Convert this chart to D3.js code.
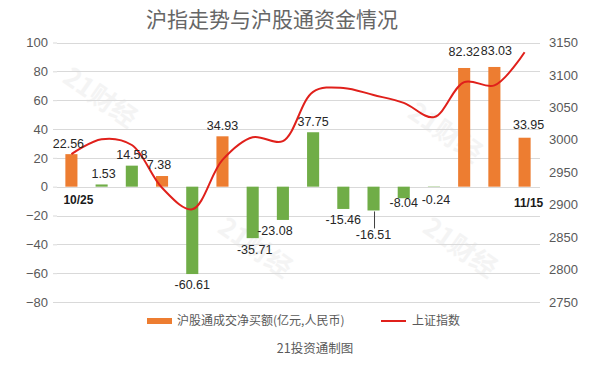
<!DOCTYPE html>
<html><head><meta charset="utf-8">
<script src="https://cdn.jsdelivr.net/npm/d3@7"></script>
<style>
html,body{margin:0;padding:0;background:#fff;}
svg text{font-family:"Liberation Sans",Arial,sans-serif;}
.cjk{font-family:"Noto Sans CJK SC","Liberation Sans",sans-serif;}
</style></head>
<body><svg id="c" width="591" height="379"></svg>
<script>
const dates = ["10/25","10/26","10/27","10/30","10/31","11/1","11/2","11/3","11/6","11/7","11/8","11/9","11/10","11/13","11/14","11/15"];
const netBuy = [22.56,1.53,14.58,7.38,-60.61,34.93,-35.71,-23.08,37.75,-15.46,-16.51,-8.04,-0.24,82.32,83.03,33.95];
const barColorKey = ["o","g","g","o","g","o","g","g","g","g","g","g","g","o","o","o"];
const shIndex = [2978,3001,2992,2926,2893,2969,3004,2998,3074,3080,3069,3057,3035,3089,3084,3135];
const leftTicks = [100,80,60,40,20,0,-20,-40,-60,-80];
const rightTicks = [3150,3100,3050,3000,2950,2900,2850,2800,2750];
const shownDates = ["10/25","11/15"];
const title = "沪指走势与沪股通资金情况";
const legendBar = "沪股通成交净买额(亿元,人民币)";
const legendLine = "上证指数";
const footer = "21投资通制图";

(function(){
const colors = {o:"#ED7D31", g:"#70AD47"};
// label nudges (px) for hand-placed labels
const labelNudge = {7:{dx:-8,dy:0},10:{dx:0,dy:13,leader:true},11:{dx:0,dy:-7},12:{dx:2,dy:2},13:{dx:0,dy:-5},14:{dx:2,dy:-5},15:{dx:4,dy:-2},0:{dx:-3,dy:0},1:{dx:2,dy:0},3:{dx:-3,dy:0},6:{dx:2,dy:0}};

const svg = d3.select("#c");
const pTop = 42.5, pBottom = 302, pLeft = 57, pRight = 540;

const x = d3.scaleBand().domain(dates).range([56,540]).paddingInner(0.6).paddingOuter(0.31);
const yL = d3.scaleLinear().domain([-80,100]).range([pBottom, pTop]);
const yR = d3.scaleLinear().domain([2750,3150]).range([pBottom, pTop]);

// watermark
const wm = [[95,105],[250,255],[455,255],[440,140]];
wm.forEach(p=>{
  svg.append("text").attr("class","cjk").attr("x",p[0]).attr("y",p[1])
    .attr("transform",`rotate(35 ${p[0]} ${p[1]})`).attr("text-anchor","middle")
    .attr("font-size",26).attr("font-weight","bold").attr("fill","#f4f4f4").text("21财经");
});

// gridlines
svg.append("g").selectAll("line").data(leftTicks).join("line")
  .attr("x1",pLeft).attr("x2",pRight).attr("y1",d=>Math.round(yL(d))+0.5).attr("y2",d=>Math.round(yL(d))+0.5)
  .attr("stroke","#d9d9d9").attr("stroke-width",1);

// left axis
const ax = d3.axisLeft(yL).tickValues(leftTicks).tickSize(4).tickPadding(5).tickFormat(d=>d<0?"\u2212"+Math.abs(d):d);
const gL = svg.append("g").attr("transform",`translate(${pLeft},0)`).call(ax);
gL.select(".domain").remove();
gL.selectAll(".tick line").attr("stroke","#d9d9d9");
gL.selectAll(".tick text").attr("font-size",13).attr("fill","#595959").attr("font-family","Liberation Sans, Arial, sans-serif");

// right axis
const ar = d3.axisRight(yR).tickValues(rightTicks).tickSize(0).tickPadding(9).tickFormat(d3.format("d"));
const gR = svg.append("g").attr("transform",`translate(${pRight},0)`).call(ar);
gR.select(".domain").remove();
gR.selectAll(".tick text").attr("font-size",13).attr("fill","#595959").attr("font-family","Liberation Sans, Arial, sans-serif");

// bars
svg.append("g").selectAll("rect").data(netBuy).join("rect")
  .attr("x",(d,i)=>x(dates[i]))
  .attr("width",x.bandwidth())
  .attr("y",d=>yL(Math.max(0,d)))
  .attr("height",d=>Math.abs(yL(d)-yL(0)))
  .attr("fill",(d,i)=>colors[barColorKey[i]]);

// line
const line = d3.line().x((d,i)=>x(dates[i])+x.bandwidth()/2).y(d=>yR(d)).curve(d3.curveCatmullRom.alpha(0.5));
svg.append("path").datum(shIndex).attr("d",line).attr("fill","none").attr("stroke","#E0201B").attr("stroke-width",2);

// value labels
const lg = svg.append("g");
netBuy.forEach((d,i)=>{
  const n = labelNudge[i]||{dx:0,dy:0};
  const cx = x(dates[i])+x.bandwidth()/2 + n.dx;
  const base = d>=0 ? yL(d)-11 : yL(d)+11;
  const cy = base + n.dy;
  if(n.leader){
    lg.append("line").attr("x1",cx+1).attr("x2",cx+1).attr("y1",yL(d)+1).attr("y2",cy-6).attr("stroke","#404040").attr("stroke-width",1);
  }
  lg.append("text").attr("x",cx).attr("y",cy).attr("dy","0.35em").attr("text-anchor","middle")
    .attr("font-size",12.5).attr("fill","#262626").text(d.toFixed(2));
});

// date labels
shownDates.forEach((s,k)=>{
  svg.append("text").attr("x",x(s)+x.bandwidth()/2 + (k===0?7:4)).attr("y",yL(0)+(k===0?13:16)).attr("dy","0.35em")
    .attr("text-anchor","middle").attr("font-size",12).attr("font-weight","bold").attr("fill","#1a1a1a").text(s);
});

// title
svg.append("text").attr("class","cjk").attr("x",272).attr("y",20).attr("dy","0.35em").attr("text-anchor","middle")
  .attr("font-size",21).attr("fill","#666666").text(title);

// legend
svg.append("rect").attr("x",147).attr("y",318).attr("width",25).attr("height",6).attr("fill",colors.o);
svg.append("text").attr("class","cjk").attr("x",177).attr("y",321).attr("dy","0.35em").attr("font-size",12).attr("fill","#595959").text(legendBar);
svg.append("line").attr("x1",381).attr("x2",406).attr("y1",321).attr("y2",321).attr("stroke","#E0201B").attr("stroke-width",2);
svg.append("text").attr("class","cjk").attr("x",412).attr("y",321).attr("dy","0.35em").attr("font-size",12).attr("fill","#595959").text(legendLine);

svg.append("text").attr("class","cjk").attr("x",315).attr("y",349).attr("dy","0.35em").attr("text-anchor","middle").attr("font-size",12.5).attr("fill","#595959").text(footer);
})();
</script></body></html>
